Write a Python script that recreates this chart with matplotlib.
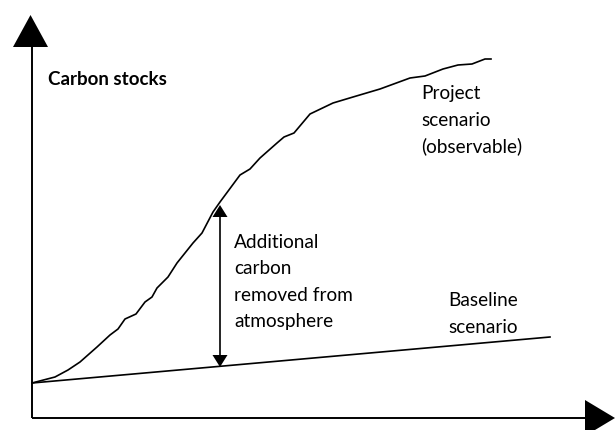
import matplotlib
matplotlib.use("Agg")
import matplotlib.pyplot as plt
from matplotlib.patches import Polygon

# Project scenario curve (pixel-space reading of the reference)
project_x = [32, 55, 68, 80, 97, 110, 118, 125, 136, 145, 152, 157, 168, 177, 193, 202, 213,
             220, 240, 250, 260, 277, 284, 294, 310, 333, 353, 380, 410, 425, 443, 458, 472, 485, 491]
project_y = [383, 377, 370, 362, 347, 335, 329, 319, 314, 302, 297, 288, 277, 263, 243, 233, 212,
             202, 175, 169, 158, 143, 137, 133, 114, 103, 97, 89, 78, 76, 69, 65, 64, 59, 59]

# Baseline scenario
baseline_x = [32, 550]
baseline_y = [383, 337]

# Additional carbon arrow
arrow_x = 220
arrow_top = 205
arrow_bottom = 367

y_label = "Carbon stocks"
project_lines = ["Project", "scenario", "(observable)"]
additional_lines = ["Additional", "carbon", "removed from", "atmosphere"]
baseline_lines = ["Baseline", "scenario"]

W, H = 615, 430
fig = plt.figure(figsize=(W / 100, H / 100), dpi=100)
ax = fig.add_axes([0, 0, 1, 1])
ax.set_xlim(0, W)
ax.set_ylim(H, 0)
ax.axis("off")

FONT = "Lato"

# axes lines
ax.plot([32, 32], [418, 44], color="black", lw=1.4, solid_capstyle="butt")
ax.plot([32, 588], [418, 418], color="black", lw=1.4, solid_capstyle="butt")
ax.add_patch(Polygon([[13, 47], [48, 47], [30.5, 15]], closed=True, color="black", lw=0))
ax.add_patch(Polygon([[585, 400], [585, 436], [615, 418]], closed=True, color="black", lw=0))

ax.plot(project_x, project_y, color="black", lw=1.2)
ax.plot(baseline_x, baseline_y, color="black", lw=1.2)

ax.plot([arrow_x, arrow_x], [arrow_top + 10, arrow_bottom - 10], color="black", lw=1.2)
ax.add_patch(Polygon([[212.5, 217], [227.5, 217], [220, arrow_top]], closed=True, color="black", lw=0))
ax.add_patch(Polygon([[212.5, 355], [227.5, 355], [220, arrow_bottom]], closed=True, color="black", lw=0))

ax.text(48, 85, y_label, fontsize=13.5, fontweight="bold", family=FONT, va="baseline", ha="left")

def lines(x, y0, dy, items):
    for i, s in enumerate(items):
        ax.text(x, y0 + i * dy, s, fontsize=13.7, family=FONT, va="baseline", ha="left")

lines(421, 99, 26.5, project_lines)
lines(234, 248, 26.5, additional_lines)
lines(448, 306, 27, baseline_lines)

fig.savefig("out.png", dpi=100)
